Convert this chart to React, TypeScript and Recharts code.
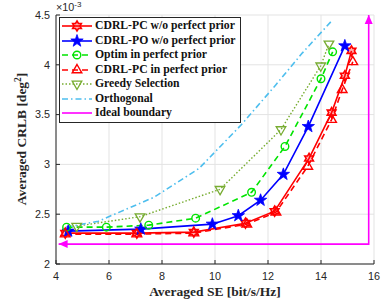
import React from 'react';
import { LineChart, Line, XAxis, YAxis, CartesianGrid, Legend } from 'recharts';

const xTicks = [4, 6, 8, 10, 12, 14, 16];
const yTicks = [2, 2.5, 3, 3.5, 4, 4.5];

// CDRL-PC w/o perfect prior
const pcNoPriorX = [4.35, 7.05, 9.2, 11.15, 12.25, 13.55, 14.4, 14.9, 15.15];
const pcNoPriorY = [2.31, 2.31, 2.32, 2.41, 2.53, 3.06, 3.52, 3.89, 4.14];
// CDRL-PO w/o perfect prior
const poNoPriorX = [4.46, 7.2, 9.9, 10.88, 11.72, 12.58, 13.52, 14.9];
const poNoPriorY = [2.33, 2.35, 2.4, 2.485, 2.64, 2.9, 3.38, 4.19];
// Optim in perfect prior
const optimX = [4.4, 5.9, 7.5, 9.27, 11.38, 12.64, 14.0, 14.44];
const optimY = [2.37, 2.37, 2.39, 2.46, 2.72, 3.18, 3.86, 4.13];
// CDRL-PC in perfect prior
const pcPriorX = [4.35, 7.05, 9.2, 11.2, 12.3, 13.5, 14.4, 14.8, 15.2];
const pcPriorY = [2.3, 2.3, 2.31, 2.4, 2.52, 2.98, 3.45, 3.75, 4.03];
// Greedy Selection
const greedyX = [4.78, 7.17, 10.19, 12.49, 13.99, 14.3];
const greedyY = [2.38, 2.475, 2.75, 3.35, 3.99, 4.21];
// Orthogonal
const orthoX = [4.4, 5.6, 7.7, 9.4, 11.0, 12.3, 13.3, 14.4];
const orthoY = [2.37, 2.43, 2.67, 2.96, 3.4, 3.8, 4.12, 4.44];
// Ideal boundary
const idealX = [4.1, 15.8, 15.8];
const idealY = [2.2, 2.2, 4.5];

const zip = (xs: number[], ys: number[]) => xs.map((x, i) => ({ x, y: ys[i] }));

type MarkerKind = 'hexagram' | 'star' | 'circle' | 'up' | 'down' | 'none';

const series = [
  { name: 'CDRL-PC w/o perfect prior', data: zip(pcNoPriorX, pcNoPriorY), color: '#ff0000', dash: undefined, width: 1.6, marker: 'hexagram' as MarkerKind },
  { name: 'CDRL-PO w/o perfect prior', data: zip(poNoPriorX, poNoPriorY), color: '#0000ff', dash: undefined, width: 1.6, marker: 'star' as MarkerKind },
  { name: 'Optim in perfect prior', data: zip(optimX, optimY), color: '#00e400', dash: '6 4', width: 1.6, marker: 'circle' as MarkerKind },
  { name: 'CDRL-PC in perfect prior', data: zip(pcPriorX, pcPriorY), color: '#ff0000', dash: '6 4', width: 1.6, marker: 'up' as MarkerKind },
  { name: 'Greedy Selection', data: zip(greedyX, greedyY), color: '#77ac30', dash: '1.5 2', width: 1.4, marker: 'down' as MarkerKind },
  { name: 'Orthogonal', data: zip(orthoX, orthoY), color: '#4dbeee', dash: '6 3 1.5 3', width: 1.6, marker: 'none' as MarkerKind },
  { name: 'Ideal boundary', data: zip(idealX, idealY), color: '#ff00ff', dash: undefined, width: 1.6, marker: 'none' as MarkerKind },
];

const starPoints = (cx: number, cy: number, n: number, R: number, r: number) => {
  const pts: string[] = [];
  for (let i = 0; i < 2 * n; i++) {
    const a = -Math.PI / 2 + (i * Math.PI) / n;
    const rad = i % 2 === 0 ? R : r;
    pts.push(`${cx + rad * Math.cos(a)},${cy + rad * Math.sin(a)}`);
  }
  return pts.join(' ');
};

const Marker = ({ kind, cx, cy, color }: { kind: MarkerKind; cx: number; cy: number; color: string }) => {
  switch (kind) {
    case 'hexagram':
      return <polygon points={starPoints(cx, cy, 6, 5, 2.9)} fill={color} fillOpacity={0.3} stroke={color} strokeWidth={1.6} />;
    case 'star':
      return <polygon points={starPoints(cx, cy, 5, 6.5, 2.6)} fill={color} stroke={color} strokeWidth={0.8} />;
    case 'circle':
      return <circle cx={cx} cy={cy} r={3.8} fill="none" stroke={color} strokeWidth={1.4} />;
    case 'up':
      return <polygon points={`${cx},${cy - 5.5} ${cx + 4.8},${cy + 2.8} ${cx - 4.8},${cy + 2.8}`} fill="none" stroke={color} strokeWidth={1.4} />;
    case 'down':
      return <polygon points={`${cx},${cy + 5.5} ${cx + 4.8},${cy - 2.8} ${cx - 4.8},${cy - 2.8}`} fill="none" stroke={color} strokeWidth={1.3} />;
    default:
      return null;
  }
};

// arrow heads on the ideal boundary: first point points left, last points up
const ArrowDot = (props: any) => {
  const { cx, cy, index } = props;
  const last = idealX.length - 1;
  if (index === 0) {
    return <polygon key={index} points={`${cx},${cy} ${cx + 9},${cy - 4} ${cx + 9},${cy + 4}`} fill="#ff00ff" />;
  }
  if (index === last) {
    return <polygon key={index} points={`${cx},${cy} ${cx - 4},${cy + 9} ${cx + 4},${cy + 9}`} fill="#ff00ff" />;
  }
  return <g key={index} />;
};

const sansFont = '"Liberation Sans", Arial, sans-serif';
const tickStyle = { fill: '#262626', fontSize: 10.8, fontFamily: sansFont };
const titleFont = '"Liberation Serif", "Times New Roman", serif';

const LegendBox = () => (
  <div
    style={{
      border: '1px solid #262626',
      background: '#fff',
      padding: '1px 4px 1px 1px',
      fontFamily: titleFont,
      fontWeight: 'bold',
      fontSize: 11.7,
      color: '#111',
      lineHeight: 1,
    }}
  >
    {series.map((s) => (
      <div key={s.name} style={{ display: 'flex', alignItems: 'center', height: 14.5 }}>
        <svg width={32} height={14} style={{ marginRight: 2, flex: 'none' }}>
          <line x1={1} y1={7} x2={31} y2={7} stroke={s.color} strokeWidth={s.width} strokeDasharray={s.dash} />
          <Marker kind={s.marker} cx={16} cy={7} color={s.color} />
        </svg>
        <span style={{ whiteSpace: 'nowrap' }}>{s.name}</span>
      </div>
    ))}
  </div>
);

export default function App() {
  return (
    <div style={{ position: 'absolute', left: 0, top: 0 }}>
      <LineChart width={388} height={303} margin={{ top: 15, right: 14, bottom: 0, left: 0 }}>
        <CartesianGrid stroke="#e3e3e3" />
        <XAxis
          dataKey="x"
          type="number"
          domain={[4, 16]}
          ticks={xTicks}
          interval={0}
          height={39}
          tickSize={-4}
          tickMargin={12}
          tick={tickStyle}
          stroke="#262626"
          label={{
            content: () => (
              <text x={215} y={296} textAnchor="middle" fontFamily={titleFont} fontWeight="bold" fontSize={13.5} fill="#262626">
                Averaged SE [bit/s/Hz]
              </text>
            ),
          }}
        />
        <XAxis
          xAxisId="top"
          orientation="top"
          dataKey="x"
          type="number"
          domain={[4, 16]}
          ticks={xTicks}
          height={0}
          tickSize={-4}
          tick={false}
          stroke="#262626"
        />
        <YAxis
          type="number"
          domain={[2, 4.5]}
          ticks={yTicks}
          interval={0}
          width={56}
          tickSize={-4}
          tickMargin={10}
          tick={tickStyle}
          stroke="#262626"
          label={{
            content: () => (
              <g>
                <text
                  transform="translate(26,139) rotate(-90)"
                  textAnchor="middle"
                  fontFamily={titleFont}
                  fontWeight="bold"
                  fontSize={13.5}
                  fill="#262626"
                >
                  Averaged CRLB [deg<tspan dy={-5} fontSize={9.5}>2</tspan>
                  <tspan dy={5}>]</tspan>
                </text>
                <text x={56} y={11} fontFamily={sansFont} fontSize={10.8} fill="#262626">
                  ×10<tspan dy={-4} fontSize={8}>-3</tspan>
                </text>
              </g>
            ),
          }}
        />
        <YAxis yAxisId="right" orientation="right" type="number" domain={[2, 4.5]} ticks={yTicks} width={0} tickSize={-4} tick={false} stroke="#262626" />
        {series.map((s, si) => (
          <Line
            key={s.name}
            data={s.data}
            dataKey="y"
            type="linear"
            stroke={s.color}
            strokeWidth={s.width}
            strokeDasharray={s.dash}
            isAnimationActive={false}
            activeDot={false}
            dot={
              s.name === 'Ideal boundary'
                ? ArrowDot
                : (p: any) =>
                    s.marker === 'none' ? (
                      <g key={`${si}-${p.index}`} />
                    ) : (
                      <g key={`${si}-${p.index}`}>
                        <Marker kind={s.marker} cx={p.cx} cy={p.cy} color={s.color} />
                      </g>
                    )
            }
          />
        ))}
        <Legend
          layout="vertical"
          align="center"
          verticalAlign="middle"
          content={() => <LegendBox />}
          wrapperStyle={{ left: 59, top: 17, width: 'auto', height: 'auto' }}
        />
      </LineChart>
    </div>
  );
}
